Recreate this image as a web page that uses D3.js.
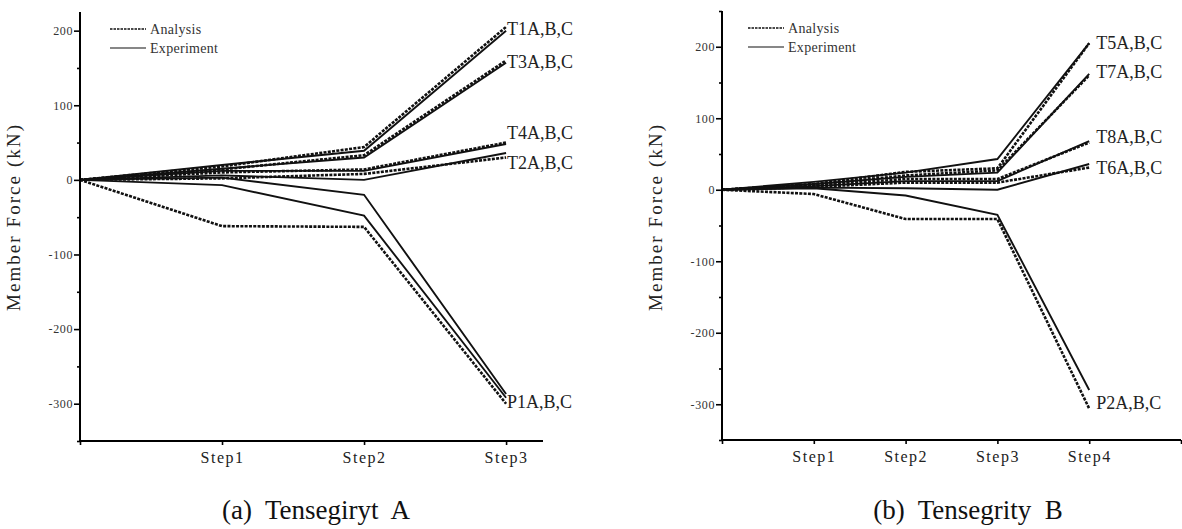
<!DOCTYPE html>
<html>
<head>
<meta charset="utf-8">
<script src="https://cdn.jsdelivr.net/npm/d3@7"></script>
<style>
  body { margin: 0; background: #fff; }
</style>
</head>
<body>
<svg id="chart" width="1182" height="529"></svg>
<script>
// ---- data (kN) ----
// Tensegrity A : steps 0..3
var stepsA = ["Step1", "Step2", "Step3"];
var t1AnaA = [0, 18, 44, 205];
var t1ExpA = [0, 20, 39, 200];
var t3AnaA = [0, 14, 33, 160];
var t3ExpA = [0, 15, 30, 157];
var t4AnaA = [0, 10, 14, 50];
var t4ExpA = [0, 12, 12, 48];
var t2AnaA = [0, 2, 8, 30];
var t2ExpA = [0, 6, 0, 36];
var p1AnaA = [0, -62, -63, -300];
var p1ExpA = [0, -7, -48, -292];
var p1ExpA2 = [0, 3, -20, -287];
var labelsA = ["T1A,B,C", "T3A,B,C", "T4A,B,C", "T2A,B,C", "P1A,B,C"];
var labelAtA = [202, 158, 63, 23, -297];

// Tensegrity B : steps 0..4
var stepsB = ["Step1", "Step2", "Step3", "Step4"];
var t5AnaB = [0, 8, 25, 30, 205];
var t5ExpB = [0, 11, 24, 43, 205];
var t7AnaB = [0, 7, 20, 27, 160];
var t7ExpB = [0, 8, 18, 24, 162];
var t8AnaB = [0, 6, 15, 15, 66];
var t8ExpB = [0, 5, 12, 12, 68];
var t6AnaB = [0, 4, 10, 10, 31];
var t6ExpB = [0, 3, 2, 0, 36];
var p2AnaB = [0, -6, -41, -41, -306];
var p2ExpB = [0, 2, -8, -35, -280];
var labelsB = ["T5A,B,C", "T7A,B,C", "T8A,B,C", "T6A,B,C", "P2A,B,C"];
var labelAtB = [205, 165, 74, 31, -298];

var yLabelTicks = [-300, -200, -100, 0, 100, 200];
var legendNames = ["Analysis", "Experiment"];

var serif = "'Liberation Serif', 'DejaVu Serif', serif";
var svg = d3.select("#chart");

function drawPanel(cfg) {
  var x = d3.scaleLinear().domain(cfg.xDomain).range(cfg.xRange);
  var y = d3.scaleLinear().domain(cfg.yDomain).range(cfg.yRange);
  var g = svg.append("g");

  // lines
  var line = d3.line()
    .x(function (d, i) { return x(i); })
    .y(function (d) { return y(d); });

  g.selectAll("path.series")
    .data(cfg.series)
    .enter()
    .append("path")
      .attr("class", "series")
      .attr("d", function (d) { return line(d.vals); })
      .attr("fill", "none")
      .attr("stroke", "#111")
      .attr("stroke-width", function (d) { return d.kind == "ana" ? 2.6 : 1.9; })
      .attr("stroke-dasharray", function (d) { return d.kind == "ana" ? "3,1.3" : null; });

  // y axis, labels every 100 with minor ticks every 50
  var minor = d3.range(cfg.yDomain[0], cfg.yDomain[1] + 1, 50);
  var yAxis = g.append("g")
    .attr("transform", "translate(" + cfg.xRange[0] + ",0)")
    .call(d3.axisLeft(y).tickValues(minor).tickSize(4).tickPadding(3)
      .tickFormat(function (d) { return yLabelTicks.indexOf(d) >= 0 ? d : ""; }));
  yAxis.select(".domain").attr("d", "M0," + cfg.yRange[1] + "V" + cfg.yRange[0])
    .attr("stroke-width", 2);
  yAxis.selectAll(".tick line")
    .attr("stroke-width", 1.6)
    .attr("x2", function (d) { return yLabelTicks.indexOf(d) >= 0 ? -6 : -3; });
  yAxis.selectAll(".tick text")
    .style("font-size", "12px")
    .style("letter-spacing", "0.6px")
    .attr("fill", "#333");

  // x axis
  var xt = d3.range(0, cfg.steps.length + 1);
  if (cfg.endTick) xt.push(cfg.xDomain[1]);
  var xAxis = g.append("g")
    .attr("transform", "translate(0," + cfg.yRange[0] + ")")
    .call(d3.axisBottom(x).tickValues(xt).tickSize(4).tickPadding(7)
      .tickFormat(function (d) { return d >= 1 && d <= cfg.steps.length ? cfg.steps[d - 1] : ""; }));
  xAxis.select(".domain").attr("d", "M" + cfg.xRange[0] + ",0H" + cfg.xRange[1])
    .attr("stroke-width", 2);
  xAxis.selectAll(".tick line").attr("stroke-width", 1.6);
  xAxis.selectAll(".tick text")
    .style("font-size", "16px")
    .style("letter-spacing", "1.5px")
    .attr("fill", "#222");

  // axis title
  g.append("text")
    .attr("transform", "translate(" + cfg.titleX + "," + 218 + ") rotate(-90)")
    .attr("text-anchor", "middle")
    .attr("textLength", 186)
    .attr("lengthAdjust", "spacing")
    .style("font-size", "19px")
    .attr("fill", "#222")
    .text("Member Force (kN)");

  // member labels
  var lastX = x(cfg.steps.length);
  g.selectAll("text.member")
    .data(cfg.labels)
    .enter()
    .append("text")
      .attr("class", "member")
      .attr("x", lastX + cfg.labelDx)
      .attr("y", function (d, i) { return y(cfg.labelAt[i]); })
      .attr("dy", "0.35em")
      .style("font-size", "18px")
      .attr("fill", "#222")
      .text(function (d) { return d; });

  // legend
  var lg = g.selectAll("g.legend")
    .data(legendNames)
    .enter()
    .append("g")
      .attr("transform", function (d, i) { return "translate(" + cfg.legendX + "," + (cfg.legendY + i * 19) + ")"; });
  lg.append("line")
    .attr("x1", 0).attr("x2", 36)
    .attr("stroke", "#111")
    .attr("stroke-width", function (d, i) { return i == 0 ? 1.6 : 1.2; })
    .attr("stroke-dasharray", function (d, i) { return i == 0 ? "2.5,1" : null; });
  lg.append("text")
    .attr("x", 40).attr("dy", "0.35em")
    .style("font-size", "14px")
    .style("letter-spacing", "0.3px")
    .attr("fill", "#333")
    .text(function (d) { return d; });

  // caption
  g.append("text")
    .attr("x", cfg.captionX)
    .attr("y", 519)
    .attr("text-anchor", "middle")
    .style("font-size", "27px")
    .style("white-space", "pre")
    .attr("fill", "#111")
    .text(cfg.caption);
}

drawPanel({
  steps: stepsA,
  xDomain: [0, 3.26], xRange: [80, 543],
  yDomain: [-350, 225], yRange: [441, 12],
  series: [
    { vals: t1AnaA, kind: "ana" }, { vals: t1ExpA, kind: "exp" },
    { vals: t3AnaA, kind: "ana" }, { vals: t3ExpA, kind: "exp" },
    { vals: t4AnaA, kind: "ana" }, { vals: t4ExpA, kind: "exp" },
    { vals: t2AnaA, kind: "ana" }, { vals: t2ExpA, kind: "exp" },
    { vals: p1AnaA, kind: "ana" }, { vals: p1ExpA, kind: "exp" },
    { vals: p1ExpA2, kind: "exp" }
  ],
  labels: labelsA, labelAt: labelAtA, labelDx: 1,
  titleX: 20, legendX: 110, legendY: 29,
  endTick: false,
  caption: "(a)  Tensegiryt  A", captionX: 316
});

drawPanel({
  steps: stepsB,
  xDomain: [0, 5], xRange: [722, 1181],
  yDomain: [-350, 250], yRange: [440, 11],
  series: [
    { vals: t5AnaB, kind: "ana" }, { vals: t5ExpB, kind: "exp" },
    { vals: t7AnaB, kind: "ana" }, { vals: t7ExpB, kind: "exp" },
    { vals: t8AnaB, kind: "ana" }, { vals: t8ExpB, kind: "exp" },
    { vals: t6AnaB, kind: "ana" }, { vals: t6ExpB, kind: "exp" },
    { vals: p2AnaB, kind: "ana" }, { vals: p2ExpB, kind: "exp" }
  ],
  labels: labelsB, labelAt: labelAtB, labelDx: 7,
  titleX: 662, legendX: 748, legendY: 28,
  endTick: true,
  caption: "(b)  Tensegrity  B", captionX: 968
});

// all text in a Times-like face, as in the scanned figure
svg.selectAll("text").style("font-family", serif);
svg.selectAll("g").attr("font-family", null);
</script>
</body>
</html>
